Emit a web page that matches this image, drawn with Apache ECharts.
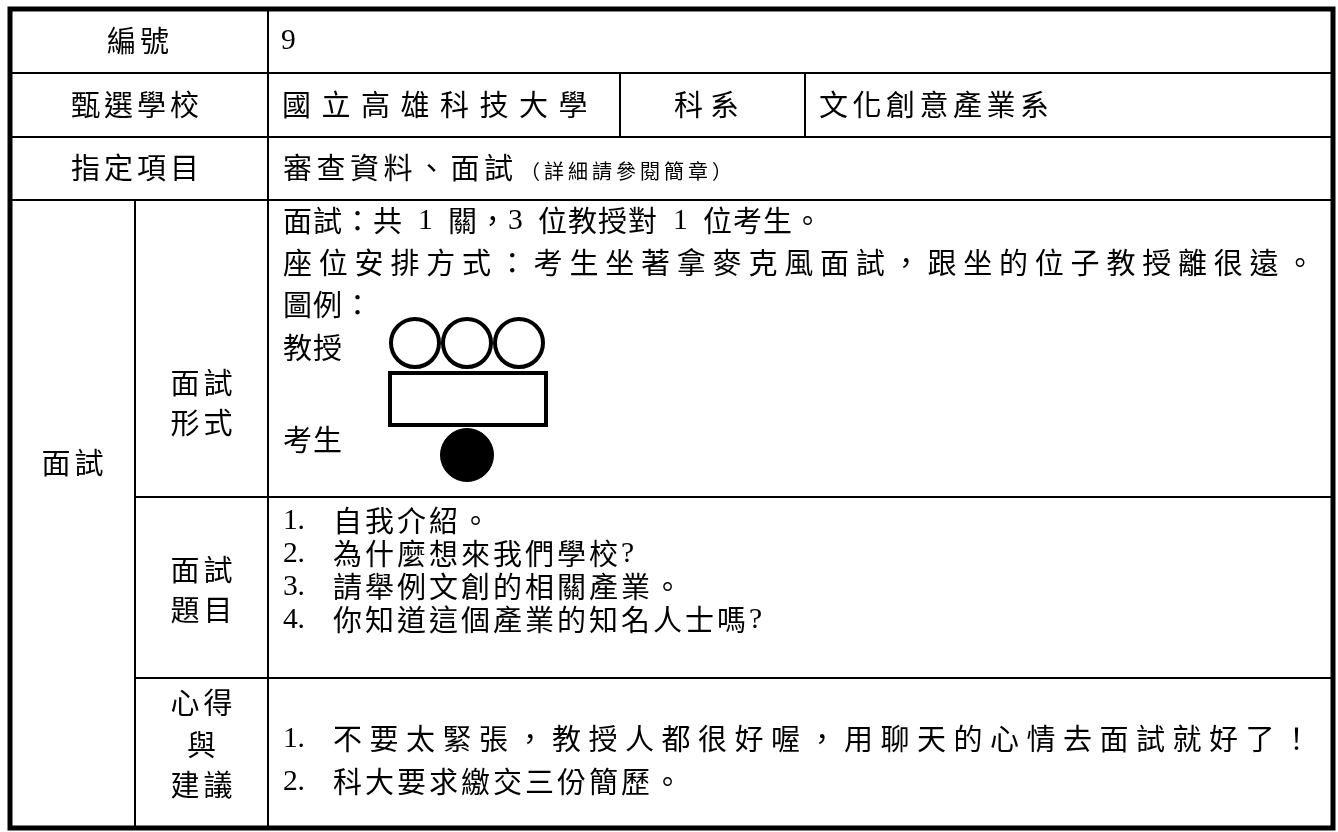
<!DOCTYPE html>
<html><head><meta charset="utf-8">
<script src="https://cdn.jsdelivr.net/npm/echarts@6/dist/echarts.min.js"></script>
<style>html,body{margin:0;padding:0;background:#fff}#main{width:1338px;height:832px}</style>
</head><body><div id="main"></div>
<script>
// ---- table content ----
const rowLabels = ['編號', '甄選學校', '指定項目'];
const numberValue = '9';
const schoolName = '國立高雄科技大學';
const deptLabel = '科系';
const deptName = '文化創意產業系';
const itemsMain = '審查資料、面試';
const itemsNote = '（詳細請參閱簡章）';
const sectionLabel = '面試';
const subLabels = [['面試', '形式'], ['面試', '題目'], ['心得', '與', '建議']];
const formatLines = ['面試：共 1 關，3 位教授對 1 位考生。', '座位安排方式：考生坐著拿麥克風面試，跟坐的位子教授離很遠。', '圖例：'];
const legendLabels = ['教授', '考生'];
const professorCount = 3;
const studentCount = 1;
const questions = ['自我介紹。', '為什麼想來我們學校?', '請舉例文創的相關產業。', '你知道這個產業的知名人士嗎?'];
const advice = ['不要太緊張，教授人都很好喔，用聊天的心情去面試就好了！', '科大要求繳交三份簡歷。'];

// ---- layout ----
const L = { left: 10, right: 1333, top: 9, bottom: 828, c1: 135, c2: 268, c3: 620, c4: 805,
  rows: [73, 137, 200], subRows: [497, 678] };
const CJK = "'Noto Sans CJK TC'";
const LAT = "'Liberation Serif'";
const FS = 29;
const els = [];

function isHalf(ch) { return ch.charCodeAt(0) < 0x2000; }
function run(str, x, y, o) {
  o = o || {};
  const fs = o.fs || FS, pitch = o.pitch || fs;
  const adv = ch => isHalf(ch) ? pitch / 2 : pitch;
  let total = 0;
  for (const ch of str) total += adv(ch);
  let cx = o.center ? x - (total - (pitch - fs)) / 2 : x;
  for (const ch of str) {
    if (ch !== ' ') {
      els.push({ type: 'text', x: cx, y: y, silent: true, style: {
        text: ch, fill: '#000', fontSize: isHalf(ch) ? fs * 1.02 : fs,
        fontFamily: isHalf(ch) ? LAT : CJK, align: 'left', verticalAlign: 'middle' } });
    }
    cx += adv(ch);
  }
}
function hline(y, x1, x2, w) { els.push({ type: 'line', silent: true, shape: { x1: x1, y1: y, x2: x2, y2: y }, style: { stroke: '#000', lineWidth: w || 2 } }); }
function vline(x, y1, y2, w) { els.push({ type: 'line', silent: true, shape: { x1: x, y1: y1, x2: x, y2: y2 }, style: { stroke: '#000', lineWidth: w || 2 } }); }

// grid lines
L.rows.forEach(y => hline(y, L.left, L.right));
L.subRows.forEach(y => hline(y, L.c1, L.right));
vline(L.c2, L.top, L.bottom);
vline(L.c1, L.rows[2], L.bottom);
vline(L.c3, L.rows[0], L.rows[1]);
vline(L.c4, L.rows[0], L.rows[1]);
els.push({ type: 'rect', silent: true, shape: { x: L.left, y: L.top, width: L.right - L.left, height: L.bottom - L.top },
  style: { fill: 'none', stroke: '#000', lineWidth: 5 } });

// header rows
const labelCx = (L.left + L.c2) / 2;
const rowY = [41, 105, 168];
run(rowLabels[0], labelCx - 1, rowY[0], { center: true, pitch: 33 });
run(rowLabels[1], labelCx - 4, rowY[1], { center: true, pitch: 33 });
run(rowLabels[2], labelCx - 4, rowY[2], { center: true, pitch: 33 });
run(numberValue, 281, rowY[0], {});
run(schoolName, 282, rowY[1], { pitch: 39.5 });
run(deptLabel, (L.c3 + L.c4) / 2 - 6, rowY[1], { center: true, pitch: 36 });
run(deptName, 819, rowY[1], { pitch: 33.5 });
run(itemsMain, 283, rowY[2], { pitch: 33.5 });
run(itemsNote, 520, rowY[2] + 3, { fs: 20, pitch: 24 });

// section label
run(sectionLabel, (L.left + L.c1) / 2, 463, { center: true, pitch: 33 });
const subCx = (L.c1 + L.c2) / 2;
const subY = [[383, 423], [570, 610], [703, 745, 785]];
subLabels.forEach((g, i) => g.forEach((t, j) => run(t, subCx, subY[i][j], { center: true, pitch: 33 })));

// interview format
const fmtY = [221, 263, 305];
const fmtPitch = [30, 35.8, 30];
formatLines.forEach((t, i) => run(t, 283, fmtY[i], { pitch: fmtPitch[i] }));
run(legendLabels[0], 283, 348, { pitch: 30 });
run(legendLabels[1], 283, 440, { pitch: 30 });
// legend figure
const pr = 24, px0 = 415, py = 343;
for (let i = 0; i < professorCount; i++) {
  els.push({ type: 'circle', silent: true, shape: { cx: px0 + i * 52, cy: py, r: pr }, style: { fill: '#fff', stroke: '#000', lineWidth: 4 } });
}
els.push({ type: 'rect', silent: true, shape: { x: 390, y: 373, width: 156, height: 52 }, style: { fill: '#fff', stroke: '#000', lineWidth: 4 } });
for (let i = 0; i < studentCount; i++) {
  els.push({ type: 'circle', silent: true, shape: { cx: 467, cy: 455, r: 26.5 }, style: { fill: '#000', stroke: '#000', lineWidth: 1 } });
}

// questions
const textStart = 333;
const qY = [521, 554, 587, 620];
questions.forEach((t, i) => { run((i + 1) + '.', 283, qY[i], {}); run(t, textStart, qY[i], { pitch: 32 }); });
// advice
const aY = [739, 782];
const aPitch = [36.5, 32];
advice.forEach((t, i) => { run((i + 1) + '.', 283, aY[i], {}); run(t, textStart, aY[i], { pitch: aPitch[i] }); });

const chart = echarts.init(document.getElementById('main'), null, { renderer: 'canvas' });
chart.setOption({ backgroundColor: '#fff', animation: false, graphic: { elements: els } });
</script></body></html>
